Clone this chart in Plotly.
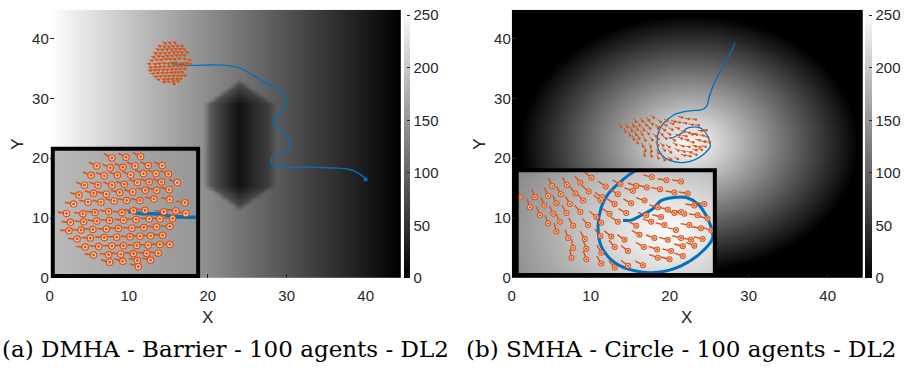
import numpy as np
import plotly.graph_objects as go

# ---------------- data ----------------
X_TICKS = [0, 10, 20, 30, 40]
Y_TICKS = [0, 10, 20, 30, 40]
CBAR_TICKS = [0, 50, 100, 150, 200, 250]
CAPTION_A = "(a) DMHA - Barrier - 100 agents - DL2"
CAPTION_B = "(b) SMHA - Circle - 100 agents - DL2"

# panel (a): centroid trajectory
traj_a_x = [15.33, 15.85, 16.84, 17.14, 17.95, 19.5, 21.1, 22.4, 23.6, 24.5, 25.3, 26.6, 27.8, 28.9,
            29.6, 29.95, 29.9, 29.5, 28.8, 28.35, 28.3, 28.6, 29.3, 29.9, 30.35, 30.45, 30.2, 29.6,
            28.8, 28.1, 27.97, 28.2, 28.8, 29.7, 31.0, 32.5, 34.5, 36.3, 37.6, 38.5, 39.3, 39.8, 40.0]
traj_a_y = [35.86, 35.74, 35.68, 35.56, 35.5, 35.55, 35.6, 35.5, 35.25, 34.8, 34.15, 33.2, 32.3, 31.5,
            30.6, 29.6, 28.9, 28.1, 27.3, 26.6, 26.0, 25.3, 24.6, 23.9, 23.1, 22.3, 21.5, 21.0,
            20.5, 20.0, 19.5, 18.95, 18.6, 18.45, 18.45, 18.5, 18.45, 18.35, 18.2, 17.9, 17.3, 16.8, 16.45]

# panel (a): agent positions
agents_a_x = [14.62, 15.23, 15.86,
              13.97, 14.55, 15.09, 15.62, 16.19, 16.79,
              13.72, 14.29, 14.86, 15.43, 15.98, 16.52, 17.06,
              13.44, 14.02, 14.62, 15.16, 15.72, 16.23, 16.76, 17.44,
              13.20, 13.83, 14.38, 14.95, 15.52, 16.06, 16.55, 17.09,
              12.97, 13.59, 14.15, 14.72, 15.26, 15.83, 16.43, 17.12, 17.77,
              12.66, 13.37, 13.90, 14.48, 15.05, 15.55, 16.05, 16.86, 17.38, 17.81,
              12.83, 13.40, 13.97, 14.52, 15.12, 15.66, 16.23, 16.69, 17.24,
              12.77, 13.29, 13.80, 14.38, 14.90, 15.48, 16.00, 16.55, 17.12,
              13.12, 13.69, 14.29, 14.83, 15.40, 15.83, 16.29, 16.81,
              13.47, 14.05, 14.62, 15.12, 15.69, 16.19, 16.69, 17.12,
              13.83, 14.48, 15.00, 15.55, 16.12, 16.62,
              14.52, 15.09, 15.72, 16.29,
              15.76]
agents_a_y = [39.20, 39.24, 39.28,
              38.70, 38.58, 38.62, 38.70, 38.72, 38.72,
              38.12, 38.08, 38.12, 38.14, 38.22, 38.22, 38.20,
              37.50, 37.50, 37.50, 37.56, 37.66, 37.70, 37.70, 37.66,
              36.88, 37.00, 36.94, 37.04, 37.08, 37.18, 37.18, 37.22,
              36.32, 36.44, 36.44, 36.52, 36.54, 36.54, 36.64, 36.60, 36.40,
              35.74, 35.72, 35.80, 35.86, 35.80, 35.90, 35.94, 35.84, 35.90, 35.74,
              35.18, 35.22, 35.26, 35.30, 35.32, 35.36, 35.40, 35.40, 35.42,
              34.66, 34.70, 34.74, 34.76, 34.80, 34.82, 34.86, 34.90, 34.92,
              34.14, 34.20, 34.24, 34.26, 34.28, 34.32, 34.34, 34.38,
              33.64, 33.68, 33.70, 33.72, 33.74, 33.76, 33.80, 33.80,
              33.14, 33.16, 33.20, 33.22, 33.24, 33.26,
              32.70, 32.76, 32.80, 32.82,
              32.42]
heading_a = ([152] * 3 + [155] * 6 + [158] * 7 + [160] * 8 + [165] * 8 + [168] * 9 + [172] * 10
             + [175] * 9 + [176] * 9 + [176] * 8 + [176] * 8 + [172] * 6 + [165] * 4 + [160] * 1)

# panel (b): centroid trajectory
traj_b_x = [28.27, 27.76, 27.1, 26.5, 25.8, 25.24, 24.9, 24.8, 24.4, 23.8, 22.9, 21.9, 21.0, 20.55,
            19.77, 18.99, 18.59, 18.40, 18.59, 19.37, 20.55, 21.92, 23.29, 24.46, 25.15, 25.05,
            24.76, 24.27, 23.68, 22.90, 22.11, 21.63, 20.94, 20.35, 19.87]
traj_b_y = [39.3, 37.7, 36.2, 34.7, 33.0, 31.2, 29.8, 29.0, 28.3, 28.05, 27.95, 27.8, 27.5, 27.26,
            26.49, 25.46, 24.43, 22.89, 21.35, 20.07, 19.42, 19.30, 19.81, 20.84, 22.00, 22.89,
            23.79, 24.69, 25.16, 25.20, 24.95, 24.31, 23.79, 23.41, 23.41]

# panel (b): agent positions and headings (deg)
agents_b_x = [15.70, 16.56, 17.36, 18.01, 18.85, 19.71, 20.65, 21.57, 22.43, 23.29,
              13.80, 14.68, 15.46, 16.21, 17.07, 17.85, 18.65, 19.57, 20.45, 21.27, 22.06, 22.90, 23.68,
              14.39, 15.23, 15.95, 16.74, 17.52, 18.55, 19.38, 20.35, 21.14, 21.92, 22.51, 23.29, 24.07, 24.66,
              14.97, 15.76, 16.54, 17.36, 18.30, 19.08, 20.06, 21.24, 22.11, 22.90, 23.48, 24.27, 24.85,
              15.46, 16.15, 16.93, 17.81, 18.59, 19.57, 20.65, 21.53, 22.31, 23.00, 23.78, 24.46, 25.09,
              15.95, 16.64, 17.62, 18.54, 19.18, 19.96, 20.84, 21.72, 22.51, 23.29, 23.88, 24.56,
              16.93, 17.71, 18.59, 19.38, 20.16, 21.10, 21.88, 22.70, 23.39, 24.07,
              16.83, 17.71, 18.59, 19.38, 20.16, 21.04, 21.92, 22.61, 23.39]
agents_b_y = [26.10, 26.18, 26.36, 26.75, 26.07, 26.23, 26.10, 26.80, 26.55, 26.46,
              25.21, 25.21, 25.33, 25.46, 25.51, 25.67, 25.21, 25.46, 25.72, 25.98, 25.85, 25.59, 25.51,
              24.43, 24.56, 24.74, 24.69, 24.95, 24.95, 24.69, 24.74, 24.95, 24.43, 24.25, 24.05, 24.56, 24.69,
              23.79, 23.92, 23.97, 24.05, 23.66, 23.92, 23.97, 23.79, 23.66, 23.97, 23.92, 23.79, 23.54,
              23.15, 23.28, 22.97, 23.02, 23.20, 23.28, 22.97, 23.28, 23.02, 22.64, 23.02, 22.77, 22.59,
              22.51, 22.00, 21.92, 22.17, 22.12, 21.87, 22.25, 22.00, 21.87, 22.00, 21.87, 21.92,
              21.22, 21.15, 20.84, 21.30, 20.97, 21.30, 21.10, 20.97, 21.35, 21.40,
              20.45, 20.33, 19.99, 19.68, 19.81, 19.86, 20.45, 20.33, 20.58]
heading_b = [115, 120, 130, 140, 145, 150, 160, 165, 170, 170,
             110, 110, 115, 120, 130, 140, 145, 150, 160, 165, 170, 170, 170,
             110, 112, 115, 120, 130, 140, 145, 150, 160, 165, 165, 170, 170, 170,
             110, 115, 120, 130, 140, 145, 150, 160, 165, 165, 170, 170, 165,
             110, 115, 120, 130, 140, 145, 150, 160, 165, 165, 170, 170, 160,
             105, 110, 120, 130, 140, 145, 150, 160, 165, 165, 170, 165,
             100, 110, 120, 130, 140, 150, 160, 165, 165, 160,
             100, 110, 120, 130, 140, 150, 160, 165, 160]

# ---------------- style / geometry ----------------
W, H = 904, 373
BLUE = "#0072BD"
ORANGE = "#D95319"
PALE = "#F6CDB0"
TXT = "#262626"
SANS = "Arial, 'Liberation Sans', Helvetica, sans-serif"
TICKFONT = dict(family=SANS, size=15, color=TXT)
GRAY = [[0, "black"], [1, "white"]]

X_RANGE = [0, 44.5]
Y_RANGE = [0, 44.8]

# background field parameters
BAR_CX, BAR_CY, BAR_HW, BAR_HL, BAR_TIP = 24.0, 22.25, 4.15, 6.85, 3.8
CIRC_CX, CIRC_CY, CIRC_R = 22.5, 22.5, 21.5


def field_a(X, Y):
    base = 255 * np.clip(1 - X / 44.5, 0, 1)
    dx = np.abs(X - BAR_CX)
    dy = np.abs(Y - BAR_CY)
    m = (dx + (BAR_HW / BAR_TIP) * np.maximum(dy - BAR_HL, 0)) / BAR_HW
    inner = 0.15 + 0.55 * np.clip(m, 0, 1)
    t = np.clip((m - 0.85) / 0.32, 0, 1)
    t = t * t * (3 - 2 * t)
    f = inner * (1 - t) + t
    return base * f


def field_b(X, Y):
    r = np.sqrt((X - CIRC_CX) ** 2 + (Y - CIRC_CY) ** 2)
    return 255 * np.clip(1 - r / CIRC_R, 0, 1)


def grid(xr, yr, n):
    xs = np.linspace(xr[0] - 0.3, xr[1] + 0.3, n)
    ys = np.linspace(yr[0] - 0.3, yr[1] + 0.3, n)
    Xg, Yg = np.meshgrid(xs, ys)
    return xs, ys, Xg, Yg


def px(v):
    return v / W


def py(v):
    return 1 - v / H


# main domains (pixels)
DOM_A = dict(x=[px(46), px(399)], y=[py(284), py(10)])
DOM_B = dict(x=[px(510), px(863)], y=[py(284), py(10)])
# inset domains (border centre lines)
INS_A = dict(x=[px(49), px(195)], y=[py(282), py(152)])
INS_B = dict(x=[px(515), px(714)], y=[py(281), py(174)])
INS_A_XR, INS_A_YR = [12.07, 18.34], [31.84, 39.77]
INS_B_XR, INS_B_YR = [13.61, 25.28], [19.09, 27.34]


def tails(xs, ys, heads, lpx, sx, sy):
    tx, ty = [], []
    for x, y, h in zip(xs, ys, heads):
        a = np.deg2rad(h)
        tx += [x, x + lpx * np.cos(a) / sx, None]
        ty += [y, y + lpx * np.sin(a) / sy, None]
    return tx, ty


fig = go.Figure()


def cbar(xpix, thick):
    return dict(x=px(xpix), xanchor="left", xpad=0, thickness=thick, len=(284 - 10) / H,
                lenmode="fraction", y=py(284), yanchor="bottom", ypad=0,
                tickvals=CBAR_TICKS, ticks="inside", ticklen=3, tickcolor=TXT,
                tickfont=TICKFONT, outlinewidth=0)


# ---- panel (a) main ----
xs, ys, Xg, Yg = grid(X_RANGE, Y_RANGE, 230)
fig.add_trace(go.Heatmap(x=xs, y=ys, z=field_a(Xg, Yg), colorscale=GRAY, zmin=0, zmax=255,
                         zsmooth="best", colorbar=cbar(402, 6), xaxis="x", yaxis="y", hoverinfo="skip"))
fig.add_trace(go.Scatter(x=traj_a_x, y=traj_a_y, mode="lines", line=dict(color=BLUE, width=1.3, shape="spline"),
                         xaxis="x", yaxis="y"))
fig.add_trace(go.Scatter(x=[traj_a_x[-1]], y=[traj_a_y[-1]], mode="markers",
                         marker=dict(color=BLUE, size=4), xaxis="x", yaxis="y"))
tx, ty = tails(agents_a_x, agents_a_y, heading_a, 9, 23.3, 16.4)
fig.add_trace(go.Scatter(x=tx, y=ty, mode="lines", line=dict(color=ORANGE, width=1), xaxis="x", yaxis="y"))
fig.add_trace(go.Scatter(x=agents_a_x, y=agents_a_y, mode="markers", marker=dict(color=ORANGE, size=2.8),
                         xaxis="x", yaxis="y"))

# ---- panel (b) main ----
fig.add_trace(go.Heatmap(x=xs, y=ys, z=field_b(Xg, Yg), colorscale=GRAY, zmin=0, zmax=255,
                         zsmooth="best", colorbar=cbar(865, 7), xaxis="x2", yaxis="y2", hoverinfo="skip"))
fig.add_trace(go.Scatter(x=traj_b_x, y=traj_b_y, mode="lines", line=dict(color=BLUE, width=1.3, shape="spline"),
                         xaxis="x2", yaxis="y2"))
tx, ty = tails(agents_b_x, agents_b_y, heading_b, 9, 17.04, 12.98)
fig.add_trace(go.Scatter(x=tx, y=ty, mode="lines", line=dict(color=ORANGE, width=1), xaxis="x2", yaxis="y2"))
fig.add_trace(go.Scatter(x=agents_b_x, y=agents_b_y, mode="markers", marker=dict(color=ORANGE, size=2.6),
                         xaxis="x2", yaxis="y2"))

# ---- panel (a) inset ----
ixs, iys, IX, IY = grid(INS_A_XR, INS_A_YR, 90)
fig.add_trace(go.Heatmap(x=ixs, y=iys, z=field_a(IX, IY), colorscale=GRAY, zmin=0, zmax=255,
                         zsmooth="best", showscale=False, xaxis="x3", yaxis="y3", hoverinfo="skip"))
fig.add_trace(go.Scatter(x=traj_a_x, y=traj_a_y, mode="lines", line=dict(color=BLUE, width=3.5, shape="spline"),
                         xaxis="x3", yaxis="y3"))
tx, ty = tails(agents_a_x, agents_a_y, heading_a, 9, 23.3, 16.4)
fig.add_trace(go.Scatter(x=tx, y=ty, mode="lines", line=dict(color=ORANGE, width=1.6), xaxis="x3", yaxis="y3"))
fig.add_trace(go.Scatter(x=agents_a_x, y=agents_a_y, mode="markers",
                         marker=dict(color=ORANGE, size=7.5, line=dict(width=0)), xaxis="x3", yaxis="y3"))
fig.add_trace(go.Scatter(x=agents_a_x, y=agents_a_y, mode="markers",
                         marker=dict(symbol="circle-open", color=PALE, size=4, line=dict(width=1.1)),
                         xaxis="x3", yaxis="y3"))

# ---- panel (b) inset ----
ixs, iys, IX, IY = grid(INS_B_XR, INS_B_YR, 90)
fig.add_trace(go.Heatmap(x=ixs, y=iys, z=field_b(IX, IY), colorscale=GRAY, zmin=0, zmax=255,
                         zsmooth="best", showscale=False, xaxis="x4", yaxis="y4", hoverinfo="skip"))
fig.add_trace(go.Scatter(x=traj_b_x, y=traj_b_y, mode="lines", line=dict(color=BLUE, width=3, shape="spline"),
                         xaxis="x4", yaxis="y4"))
tx, ty = tails(agents_b_x, agents_b_y, heading_b, 9, 17.04, 12.98)
fig.add_trace(go.Scatter(x=tx, y=ty, mode="lines", line=dict(color=ORANGE, width=1.4), xaxis="x4", yaxis="y4"))
fig.add_trace(go.Scatter(x=agents_b_x, y=agents_b_y, mode="markers",
                         marker=dict(color=ORANGE, size=6, line=dict(width=0)), xaxis="x4", yaxis="y4"))
fig.add_trace(go.Scatter(x=agents_b_x, y=agents_b_y, mode="markers",
                         marker=dict(symbol="circle-open", color=PALE, size=3.2, line=dict(width=1)),
                         xaxis="x4", yaxis="y4"))

main_ax = dict(showgrid=False, zeroline=False, ticks="inside", ticklen=4, tickcolor=TXT, tickwidth=1,
               tickfont=TICKFONT, showline=False)
ins_ax = dict(visible=False, showgrid=False, zeroline=False, fixedrange=True)

LBL = dict(family=SANS, size=17, color=TXT)
CAP = dict(family="DejaVu Serif", size=23, color="black")


def ann(text, x, y, font, angle=0):
    return dict(text=text, x=px(x), y=py(y), xref="paper", yref="paper", showarrow=False,
                xanchor="center", yanchor="middle", textangle=angle, font=font)


fig.update_layout(
    width=W, height=H, margin=dict(l=0, r=0, t=0, b=0),
    paper_bgcolor="white", plot_bgcolor="white", showlegend=False,
    xaxis=dict(domain=DOM_A["x"], range=X_RANGE, tickvals=X_TICKS, anchor="y", ticklabelstandoff=7, **main_ax),
    yaxis=dict(domain=DOM_A["y"], range=Y_RANGE, tickvals=Y_TICKS, anchor="x", **main_ax),
    xaxis2=dict(domain=DOM_B["x"], range=X_RANGE, tickvals=X_TICKS, anchor="y2", ticklabelstandoff=7, **main_ax),
    yaxis2=dict(domain=DOM_B["y"], range=Y_RANGE, tickvals=Y_TICKS, anchor="x2", **main_ax),
    xaxis3=dict(domain=INS_A["x"], range=INS_A_XR, anchor="y3", **ins_ax),
    yaxis3=dict(domain=INS_A["y"], range=INS_A_YR, anchor="x3", **ins_ax),
    xaxis4=dict(domain=INS_B["x"], range=INS_B_XR, anchor="y4", **ins_ax),
    yaxis4=dict(domain=INS_B["y"], range=INS_B_YR, anchor="x4", **ins_ax),
    shapes=[
        dict(type="rect", xref="x3 domain", yref="y3 domain", x0=0, x1=1, y0=0, y1=1,
             line=dict(color="black", width=4), layer="above"),
        dict(type="rect", xref="x4 domain", yref="y4 domain", x0=0, x1=1, y0=0, y1=1,
             line=dict(color="black", width=4), layer="above"),
    ],
    annotations=[
        ann("X", 204, 324, LBL),
        ann("X", 686, 324, LBL),
        ann("Y", 14, 147, LBL, -90),
        ann("Y", 478, 147, LBL, -90),
        ann(CAPTION_A, 222, 357, CAP),
        ann(CAPTION_B, 680, 357, CAP),
    ],
)

fig.write_html("out.html", config={"displayModeBar": False},
               post_script="document.body.style.margin='0';document.body.style.overflow='hidden';")
